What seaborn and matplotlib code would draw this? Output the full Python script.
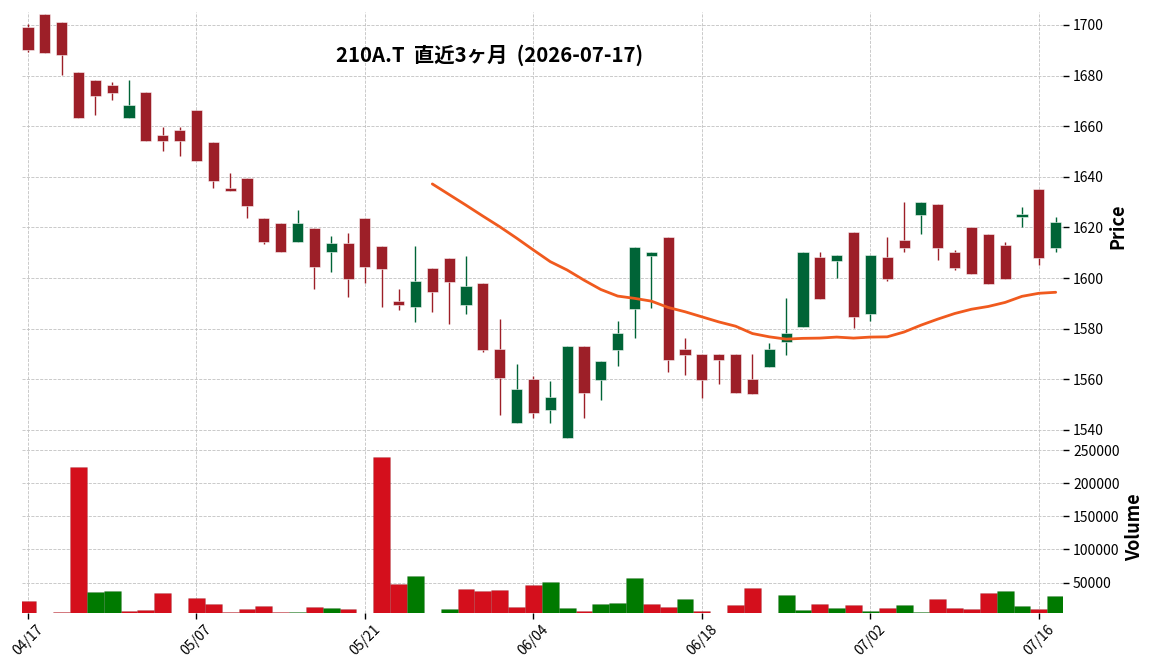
import numpy as np
import pandas as pd
import matplotlib
matplotlib.use("Agg")
import matplotlib.pyplot as plt
import seaborn as sns

# ---------------- data ----------------
dates = ["04/17", "04/20", "04/21", "04/22", "04/23", "04/24", "04/27", "04/28", "04/30", "05/01",
         "05/07", "05/08", "05/11", "05/12", "05/13", "05/14", "05/15", "05/18", "05/19", "05/20",
         "05/21", "05/22", "05/25", "05/26", "05/27", "05/28", "05/29", "06/01", "06/02", "06/03",
         "06/04", "06/05", "06/08", "06/09", "06/10", "06/11", "06/12", "06/15", "06/16", "06/17",
         "06/18", "06/19", "06/22", "06/23", "06/24", "06/25", "06/26", "06/29", "06/30", "07/01",
         "07/02", "07/03", "07/06", "07/07", "07/08", "07/09", "07/10", "07/13", "07/14", "07/15",
         "07/16", "07/17"]

opens = [1699.3, 1704.3, 1701.2, 1681.4, 1678.3, 1676.3, 1663.4, 1673.5, 1656.5, 1658.5,
         1666.4, 1653.8, 1635.6, 1639.5, 1623.7, 1621.7, 1614.2, 1619.8, 1610.3, 1613.8,
         1623.7, 1612.6, 1590.9, 1588.5, 1604.0, 1607.9, 1589.3, 1598.0, 1571.9, 1542.8,
         1560.1, 1547.8, 1536.9, 1573.2, 1559.7, 1571.7, 1587.9, 1608.8, 1616.2, 1571.9,
         1570.0, 1570.0, 1570.0, 1560.1, 1564.8, 1574.8, 1580.8, 1608.3, 1606.8, 1618.2,
         1585.9, 1608.3, 1615.0, 1625.0, 1629.2, 1610.3, 1620.2, 1617.4, 1613.0, 1624.0,
         1635.2, 1612.0]
highs = [1700.3, 1704.3, 1701.2, 1681.4, 1678.3, 1677.5, 1678.1, 1673.5, 1659.6, 1659.6,
         1666.4, 1653.8, 1641.4, 1639.5, 1623.7, 1621.7, 1626.8, 1619.8, 1616.6, 1617.8,
         1623.7, 1612.6, 1595.8, 1612.5, 1604.0, 1607.9, 1608.7, 1598.0, 1583.7, 1565.9,
         1561.3, 1559.3, 1573.2, 1573.2, 1567.2, 1582.9, 1612.3, 1610.3, 1616.2, 1576.2,
         1570.0, 1570.0, 1570.0, 1570.0, 1574.2, 1592.0, 1610.3, 1610.2, 1609.0, 1618.2,
         1609.0, 1616.1, 1629.9, 1629.9, 1629.2, 1611.1, 1620.2, 1617.4, 1614.1, 1627.9,
         1635.2, 1624.0]
lows = [1689.2, 1689.1, 1680.1, 1663.4, 1664.3, 1670.2, 1663.4, 1654.2, 1650.3, 1648.3,
        1646.2, 1635.5, 1634.3, 1623.6, 1613.5, 1610.3, 1614.2, 1595.8, 1602.5, 1592.6,
        1598.0, 1588.7, 1587.5, 1582.7, 1586.8, 1581.7, 1585.7, 1570.9, 1546.1, 1542.8,
        1544.9, 1542.8, 1536.9, 1544.9, 1552.0, 1565.1, 1576.2, 1588.0, 1563.0, 1561.9,
        1552.7, 1558.0, 1554.7, 1554.4, 1564.8, 1569.8, 1580.8, 1591.7, 1600.0, 1580.1,
        1583.0, 1599.0, 1610.2, 1617.3, 1607.0, 1603.2, 1601.7, 1597.7, 1599.7, 1620.0,
        1605.1, 1610.2]
closes = [1690.1, 1689.1, 1688.1, 1663.4, 1671.9, 1673.2, 1668.4, 1654.2, 1654.0, 1654.2,
          1646.2, 1638.3, 1634.3, 1628.5, 1614.2, 1610.3, 1621.7, 1604.3, 1613.8, 1599.6,
          1604.3, 1603.6, 1589.3, 1598.8, 1594.5, 1598.4, 1596.8, 1571.5, 1560.5, 1556.1,
          1546.8, 1553.0, 1573.2, 1554.7, 1567.2, 1578.3, 1612.3, 1610.3, 1567.6, 1569.6,
          1559.7, 1567.6, 1554.7, 1554.4, 1571.9, 1578.3, 1610.3, 1591.7, 1609.0, 1584.7,
          1609.0, 1599.7, 1612.0, 1629.9, 1612.0, 1604.1, 1601.7, 1597.7, 1599.7, 1625.3,
          1608.0, 1622.1]
volumes = [21800, 0, 5100, 224300, 35400, 36900, 6600, 8200, 33900, 0,
           26300, 17200, 5100, 9700, 14200, 5100, 5100, 12700, 11200, 9700,
           0, 239500, 47500, 59600, 0, 9700, 39900, 36900, 38400, 12700,
           46000, 50500, 11200, 6600, 17200, 18700, 56500, 17200, 12700, 24800,
           6600, 0, 15700, 41400, 0, 30800, 8200, 17200, 11200, 15700,
           6600, 11200, 15700, 5100, 24800, 11200, 9700, 33900, 36900, 14200,
           9700, 29300]
ma_start = 24
ma25 = [1637.2, 1633.0, 1628.8, 1624.5, 1620.3, 1615.8, 1611.1, 1606.5, 1603.2, 1599.2,
        1595.5, 1592.9, 1592.0, 1590.9, 1588.4, 1586.7, 1584.7, 1582.7, 1581.0, 1578.1,
        1576.8, 1575.9, 1576.2, 1576.3, 1576.7, 1576.3, 1576.7, 1576.8, 1578.7, 1581.4,
        1583.8, 1586.0, 1587.7, 1588.8, 1590.4, 1592.8, 1594.0, 1594.4]
title = "210A.T  直近3ヶ月  (2026-07-17)"
price_ticks = [1540, 1560, 1580, 1600, 1620, 1640, 1660, 1680, 1700]
vol_ticks = [50000, 100000, 150000, 200000, 250000]
tick_every = 10

# ---------------- style ----------------
sns.set_style("whitegrid", {"grid.linestyle": "--", "grid.color": "#c4c4c4",
                            "axes.edgecolor": "white"})
plt.rcParams["font.family"] = ["Noto Sans CJK JP", "DejaVu Sans"]
plt.rcParams["text.color"] = "black"
plt.rcParams["axes.labelcolor"] = "black"
plt.rcParams["xtick.color"] = "black"
plt.rcParams["ytick.color"] = "black"

UP_C, DN_C = "#006437", "#9d1f28"
VUP_C, VDN_C = "#007a00", "#d40f1c"
MA_C = "#f05a1e"
GRID_KW = dict(linestyle="--", color="#c2c2c2", linewidth=0.6)

n = len(dates)
idx = np.arange(n)
df = pd.DataFrame({"i": idx, "open": opens, "high": highs, "low": lows,
                   "close": closes, "volume": volumes})
df["up"] = df["close"] >= df["open"]
prev = df["close"].shift(1)
vup = np.where(prev.isna(), df["close"] > df["open"], df["close"] > prev)
df["vdir"] = np.where(vup, "up", "down")

fig = plt.figure(figsize=(11.52, 6.70), dpi=100)
ax = fig.add_axes([0.019, 0.342, 0.904, 0.640])
axv = fig.add_axes([0.019, 0.085, 0.904, 0.257])

# ---- candles ----
ccol = np.where(df["up"], UP_C, DN_C)
ax.vlines(df["i"], df["low"], df["high"], colors=ccol, linewidth=1.0, zorder=3)
body_lo = np.minimum(df["open"], df["close"])
body_h = np.maximum(np.abs(df["close"] - df["open"]), 0.4)
ax.bar(df["i"], body_h, bottom=body_lo, width=0.66, color=ccol,
       edgecolor=(1, 1, 1, 0.6), linewidth=0.6, zorder=4)

# ---- moving average ----
ma_df = pd.DataFrame({"i": np.arange(ma_start, ma_start + len(ma25)), "ma": ma25})
sns.lineplot(data=ma_df, x="i", y="ma", ax=ax, color=MA_C, linewidth=2.0, zorder=5)

ticks = list(range(0, n, tick_every))
ax.set_xlim(-0.36, n - 1 + 0.45)
ax.set_ylim(1535.7, 1705.1)
ax.set_yticks(price_ticks)
ax.set_xticks(ticks)
ax.tick_params(axis="x", which="both", bottom=False, labelbottom=False)
ax.yaxis.tick_right()
ax.yaxis.set_label_position("right")
ax.tick_params(axis="y", right=True, left=False, length=4, width=1.0, color="black",
               labelsize=10, pad=3)
ax.set_xlabel("")
ax.set_ylabel("Price", fontsize=13, labelpad=3, fontweight="bold")
ax.grid(True, **GRID_KW)
for s in ax.spines.values():
    s.set_visible(False)

# ---- volume ----
sns.barplot(data=df, x="i", y="volume", hue="vdir", palette={"up": VUP_C, "down": VDN_C},
            dodge=False, width=1.0, errorbar=None, legend=False, ax=axv, saturation=1,
            edgecolor=(0, 0, 0, 0.12), linewidth=0.5, zorder=3)
axv.set_xlim(-0.36, n - 1 + 0.45)
axv.set_ylim(4000, 264000)
axv.set_yticks(vol_ticks)
axv.set_yticklabels([str(v) for v in vol_ticks])
axv.set_xticks(ticks)
axv.set_xticklabels([dates[t] for t in ticks], rotation=45, ha="center", fontsize=10)
axv.yaxis.tick_right()
axv.yaxis.set_label_position("right")
axv.tick_params(axis="y", right=True, left=False, length=4, width=1.0, color="black",
                labelsize=10, pad=3)
axv.tick_params(axis="x", bottom=True, length=4, width=1.0, color="black", pad=3)
axv.set_xlabel("")
axv.set_ylabel("Volume", fontsize=13, labelpad=4, fontweight="bold")
axv.grid(True, axis="both", **GRID_KW)
axv.set_axisbelow(True)
for s in axv.spines.values():
    s.set_visible(False)

fig.text(0.425, 0.918, title, ha="center", va="center", fontsize=14.7, fontweight="bold")

fig.savefig("out.png", dpi=100)
